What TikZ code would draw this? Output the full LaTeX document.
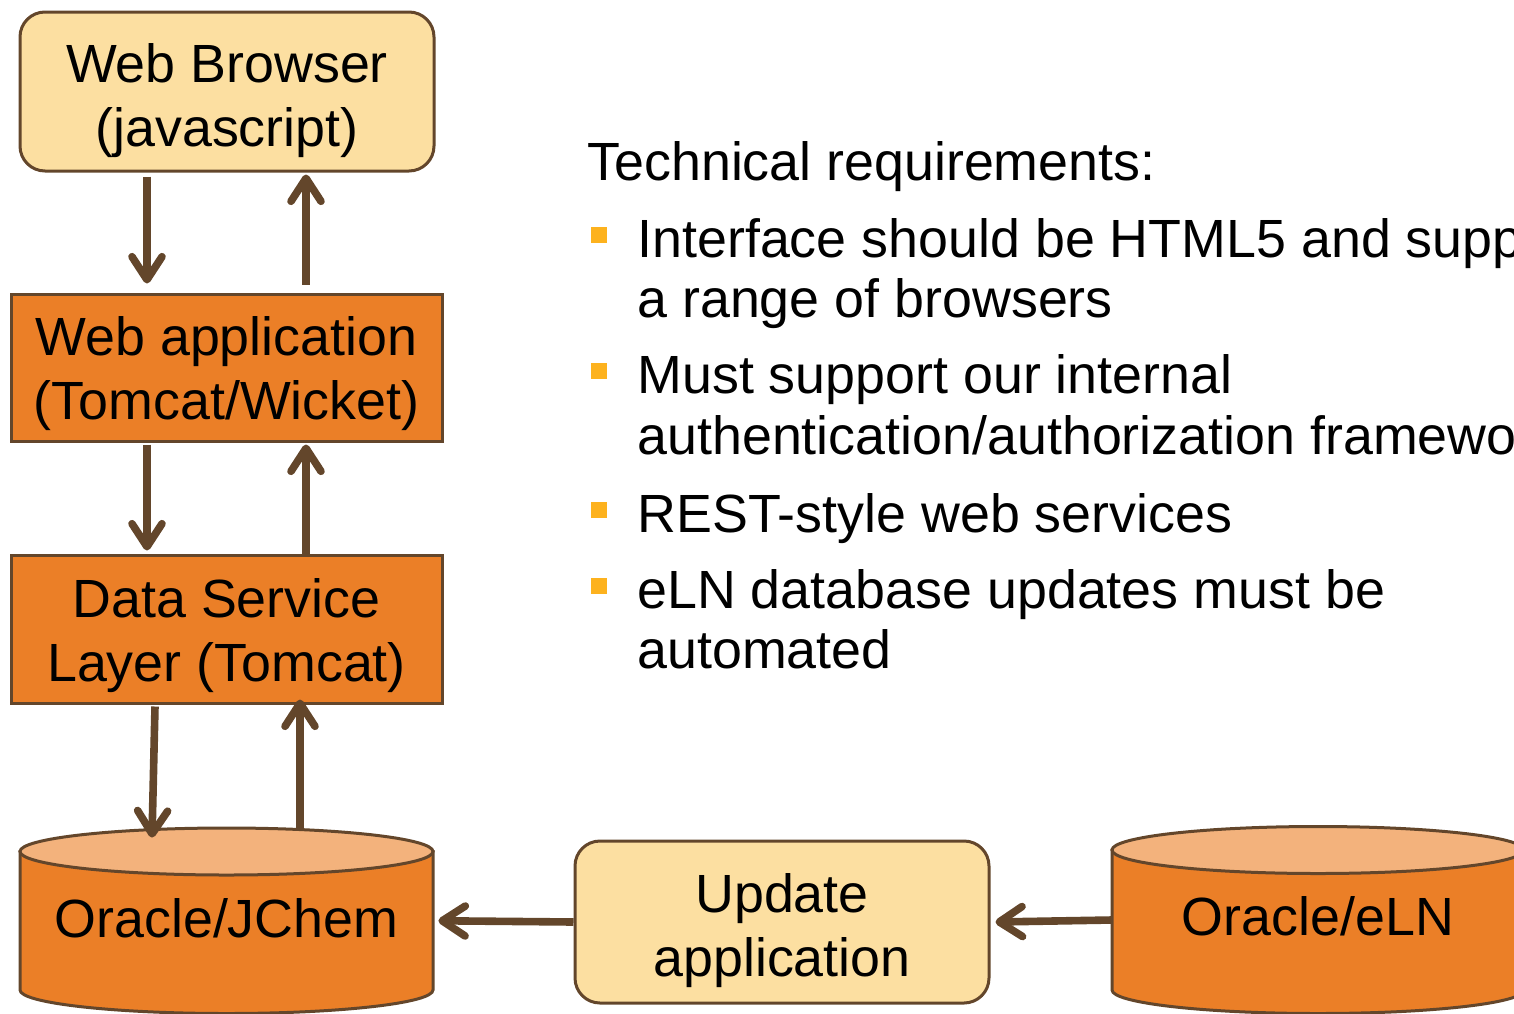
\documentclass[tikz,border=0pt]{standalone}
\usepackage{fontspec}
\setmainfont{Liberation Sans}
\usetikzlibrary{arrows.meta,calc}
\definecolor{lightbox}{RGB}{252,223,161}
\definecolor{orangebox}{RGB}{235,127,39}
\definecolor{cyltop}{RGB}{243,178,124}
\definecolor{edge}{RGB}{99,70,43}
\definecolor{bulletc}{RGB}{253,178,30}
\newcommand{\twolines}[2]{\vtop{\baselineskip=32pt\halign{\hfil##\hfil\cr #1\cr #2\cr}}}
\tikzset{
  bigfont/.style={font=\fontsize{26.9pt}{32pt}\selectfont},
  lightnode/.style={bigfont, draw=edge, line width=1.5pt, fill=lightbox, rounded corners=12.5pt, inner sep=0pt},
  orangenode/.style={bigfont, draw=edge, line width=1.5pt, fill=orangebox, inner sep=0pt},
  cylbody/.style={draw=edge, line width=1.5pt, fill=orangebox},
  cyltopst/.style={draw=edge, line width=1.5pt, fill=cyltop},
  cyltext/.style={bigfont, inner sep=0pt, text depth=0pt},
  arr/.style={draw=edge, line width=3.8pt, -{Straight Barb[length=11.5pt,width=15pt,line cap=round,line join=round]}},
  txt/.style={bigfont, anchor=base west, inner sep=0pt},
  bul/.style={fill=bulletc, minimum size=8pt, inner sep=0pt}
}
\begin{document}
\begin{tikzpicture}[x=0.5pt,y=-0.5pt]
\useasboundingbox (0,0) rectangle (1514,1013);
\clip (0,0) rectangle (1514,1013);
% boxes
\node[lightnode, minimum width=207pt, minimum height=79.5pt, text height=20pt, text depth=29.5pt] (wb) at (227,91.5) {\twolines{Web Browser}{(javascript)}};
\node[orangenode, minimum width=215.5pt, minimum height=73.5pt, text height=20pt, text depth=32.5pt] (wa) at (226.5,367.5) {\twolines{Web application}{(Tomcat/Wicket)}};
\node[orangenode, minimum width=215.5pt, minimum height=74pt, text height=20pt, text depth=31.5pt] (ds) at (226.5,629) {\twolines{Data Service}{Layer (Tomcat)}};
\node[lightnode, minimum width=207pt, minimum height=81pt, text height=20pt, text depth=30pt] (upd) at (782,922) {\twolines{Update}{application}};
% cylinders
\path[cylbody] (20,851.5) -- (20,990) arc[start angle=180,end angle=360,x radius=103.25pt,y radius=11.75pt] -- (433,851.5) -- cycle;
\path[cyltopst] (226.5,851.5) ellipse[x radius=103.25pt,y radius=11.75pt];
\node[cyltext, minimum width=206.5pt, minimum height=69.25pt, text height=16.25pt] (jchem) at (226.5,920.75) {Oracle/JChem};
\path[cylbody] (1112,850) -- (1112,990) arc[start angle=180,end angle=360,x radius=103pt,y radius=11.75pt] -- (1524,850) -- cycle;
\path[cyltopst] (1318,850) ellipse[x radius=103pt,y radius=11.75pt];
\node[cyltext, minimum width=206pt, minimum height=70pt, text height=15pt] (eln) at (1318,920) {Oracle/eLN};
% connectors
\draw[arr] ($(wb.south)+(-80,4)$) -- ($(wa.north)+(-79.5,-9)$);
\draw[arr] ($(wa.north)+(79.5,-8)$) -- ($(wb.south)+(79,2)$);
\draw[arr] ($(wa.south)+(-79.5,2)$) -- ($(ds.north)+(-79.5,-3)$);
\draw[arr] (ds.north -| 306,0) -- ($(wa.south)+(79.5,2)$);
\draw[arr] ($(ds.south)+(-71.5,2)$) -- ($(jchem.north)+(-74.5,-13.5)$);
\draw[arr] ($(jchem.north)+(73.5,-23.5)$) -- ($(ds.south)+(73.5,-5)$);
\draw[arr] (upd.west) -- ($(jchem.east)+(5,0)$);
\draw[arr] (eln.west) -- ($(upd.east)+(5,0)$);
% text column
\node[txt] (title) at (587,180) {Technical requirements:};
\node[bul] (s1) at (598.5,235) {};
\node[txt] (r1a) at (637,257) {Interface should be HTML5 and support};
\node[txt] (r1b) at (637,317) {a range of browsers};
\node[bul] (s2) at (598.5,371) {};
\node[txt] (r2a) at (637,393) {Must support our internal};
\node[txt] (r2b) at (637,454) {authentication/authorization framework};
\node[bul] (s3) at (598.5,510) {};
\node[txt] (r3) at (637,532) {REST-style web services};
\node[bul] (s4) at (598.5,586) {};
\node[txt] (r4a) at (637,608) {eLN database updates must be};
\node[txt] (r4b) at (637,668) {automated};
\end{tikzpicture}
\end{document}
